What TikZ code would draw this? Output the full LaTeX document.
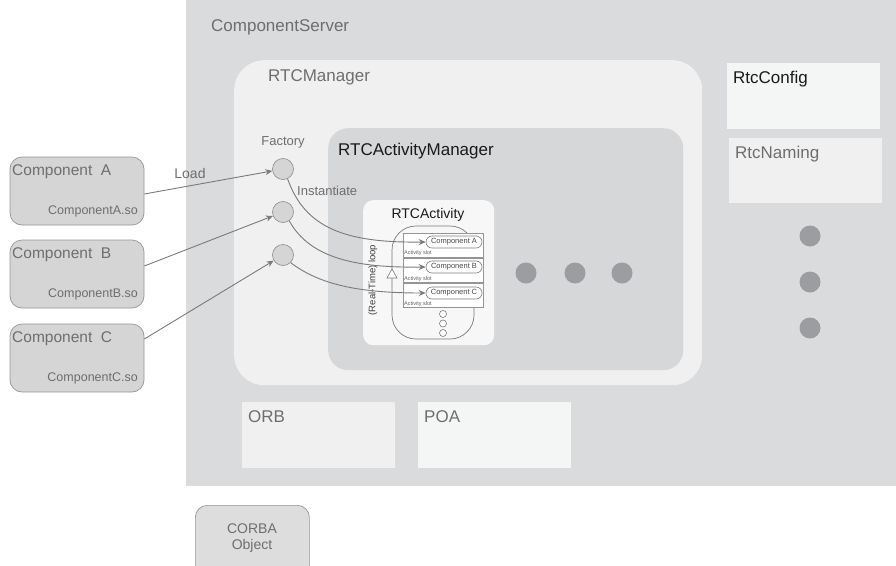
\documentclass[tikz,border=0pt]{standalone}
\usepackage{fontspec}
\setmainfont{Liberation Sans}
\usetikzlibrary{arrows.meta}
\definecolor{srvgray}{HTML}{DADBDC}
\definecolor{mgrlight}{HTML}{F0F0F0}
\definecolor{actmgr}{HTML}{D6D7D9}
\definecolor{txtgray}{HTML}{6E6E6E}
\definecolor{txtdark}{HTML}{1A1A1A}
\definecolor{linegray}{HTML}{7A7A7A}
\definecolor{compfill}{HTML}{D5D5D6}
\definecolor{dotgray}{HTML}{9C9DA0}
\definecolor{cfgfill}{HTML}{F4F5F5}
\definecolor{actfill}{HTML}{F7F7F7}
\tikzset{
  area/.style={draw=none, anchor=north west, inner sep=0pt},
  biglbl/.style={anchor=west, inner sep=0pt, font=\fontsize{17}{20}\selectfont},
  compbox/.style={draw=linegray!80, fill=compfill, rounded corners=12pt, minimum width=134pt, minimum height=68pt, inner sep=0pt, line width=0.7pt},
  factory/.style={circle, draw=linegray!80, fill=compfill, minimum size=21pt, inner sep=0pt, line width=0.7pt},
  conn/.style={draw=linegray, line width=0.9pt, -{Stealth[length=7pt,width=6pt]}},
  slotbox/.style={draw=linegray!80, fill=white, minimum width=80pt, minimum height=24pt, inner sep=0pt, line width=0.6pt},
  cnode/.style={draw=linegray, fill=white, rounded corners=6pt, minimum width=56pt, minimum height=12pt, inner sep=0pt, line width=0.6pt, font=\fontsize{7.5}{8}\selectfont, text=txtdark!80},
  slotlbl/.style={anchor=west, inner sep=0pt, font=\fontsize{5.5}{6}\selectfont, text=txtdark!70},
  bigdot/.style={circle, fill=dotgray, minimum size=21pt, inner sep=0pt},
  smallring/.style={circle, draw=linegray, fill=white, minimum size=7pt, inner sep=0pt, line width=0.6pt}
}
\begin{document}
\begin{tikzpicture}[x=1pt,y=-1pt]
\useasboundingbox (0,0) rectangle (896,565);
\clip (0,0) rectangle (896,565);
% ComponentServer
\node[area, fill=srvgray, minimum width=710pt, minimum height=486pt] (srv) at (186,0) {};
\node[biglbl, text=txtgray] (srvlbl) at (211,27) {ComponentServer};
% RTCManager
\node[area, fill=mgrlight, rounded corners=30pt, minimum width=468pt, minimum height=325pt] (mgr) at (234,60) {};
\node[biglbl, text=txtgray] (mgrlbl) at (268,77) {RTCManager};
% RTCActivityManager
\node[area, fill=actmgr, rounded corners=20pt, minimum width=355pt, minimum height=242pt] (amgr) at (328,128) {};
\node[biglbl, text=txtdark] (amgrlbl) at (338,151) {RTCActivityManager};
% RtcConfig / RtcNaming
\node[area, fill=cfgfill, minimum width=153pt, minimum height=66pt] (cfg) at (727,63) {};
\node[biglbl, text=txtdark] (cfglbl) at (733,79) {RtcConfig};
\node[area, fill=mgrlight, minimum width=153pt, minimum height=65pt] (nam) at (729,138) {};
\node[biglbl, text=txtgray] (namlbl) at (735,154) {RtcNaming};
% ORB / POA
\node[area, fill=mgrlight, minimum width=153pt, minimum height=66pt] (orb) at (242,402) {};
\node[biglbl, text=txtgray] (orblbl) at (248,417) {ORB};
\node[area, fill=cfgfill, minimum width=153pt, minimum height=66pt] (poa) at (418,402) {};
\node[biglbl, text=txtgray] (poalbl) at (424,417) {POA};
% right dots
\node[bigdot] (rd1) at (810,236) {};
\node[bigdot] (rd2) at (810,282) {};
\node[bigdot] (rd3) at (810,328) {};
% middle dots
\node[bigdot] (md1) at (526,273) {};
\node[bigdot] (md2) at (575,273) {};
\node[bigdot] (md3) at (622,273) {};
% RTCActivity
\node[area, fill=actfill, rounded corners=10pt, minimum width=131pt, minimum height=145pt] (act) at (363,200) {};
\node[inner sep=0pt, font=\fontsize{14}{16}\selectfont, text=txtdark] (actlbl) at (428,215) {RTCActivity};
\draw[linegray, line width=0.7pt, rounded corners=24pt] (392,226) rectangle (474,339);
\node[slotbox] (sa) at (443,245) {};
\node[slotbox] (sb) at (443,270) {};
\node[slotbox] (sc) at (443,295.5) {};
\node[cnode] (na) at (454,242) {Component A};
\node[cnode] (nb) at (454,267) {Component B};
\node[cnode] (nc) at (454,293) {Component C};
\node[slotlbl] (la) at (404,253) {Activity slot};
\node[slotlbl] (lb) at (404,279) {Activity slot};
\node[slotlbl] (lc) at (404,304) {Activity slot};
\node[smallring] (r1) at (443,314) {};
\node[smallring] (r2) at (443,323.5) {};
\node[smallring] (r3) at (443,333) {};
\draw[linegray, line width=0.6pt, fill=white] (392,269) -- (397,278) -- (387,278) -- cycle;
\node[rotate=90, inner sep=0pt, font=\fontsize{9.5}{10}\selectfont, text=txtdark!85] (looplbl) at (373,280) {(Real-Time) loop};
% Factory
\node[factory] (f1) at (283,169) {};
\node[factory] (f2) at (283,212) {};
\node[factory] (f3) at (283,255) {};
\node[inner sep=0pt, font=\fontsize{13}{15}\selectfont, text=txtgray] (faclbl) at (283,142) {Factory};
\node[anchor=west, inner sep=0pt, font=\fontsize{13}{15}\selectfont, text=txtgray] (instlbl) at (297,191) {Instantiate};
% Components
\node[compbox] (ca) at (77,191) {};
\node[compbox] (cb) at (77,274) {};
\node[compbox] (cc) at (77,358) {};
\foreach \n/\l/\y in {ca/A/172, cb/B/255, cc/C/339}{
  \node[anchor=west, inner sep=0pt, font=\fontsize{15.5}{17}\selectfont, text=txtgray] (\n t) at (12,\y) {Component\ \ \l};
  \node[anchor=east, inner sep=0pt, font=\fontsize{12.5}{14}\selectfont, text=txtgray] (\n s) at (138,\y+39) {Component\l.so};
}
\node[inner sep=0pt, font=\fontsize{14}{16}\selectfont, text=txtgray] (loadlbl) at (190,173) {Load};
\draw[conn] ([yshift=-3pt]ca.east) -- (f1);
\draw[conn] ([yshift=8pt]cb.east) -- (f2);
\draw[conn] ([yshift=19pt]cc.east) -- (f3);
% Instantiate curves
\draw[conn] (f1.-65) .. controls (305,228) and (345,243) .. (na.west);
\draw[conn] (f2.-55) .. controls (310,258) and (355,268) .. (nb.west);
\draw[conn] (f3.-45) .. controls (320,285) and (360,293) .. (nc.west);
% CORBA object
\node[draw=linegray!80, fill=compfill!80, rounded corners=12pt, minimum width=114pt, minimum height=80pt, anchor=north west, line width=0.7pt] (corba) at (195,505) {};
\node[align=center, inner sep=0pt, font=\fontsize{14}{16}\selectfont, text=txtgray] (corbalbl) at (252,538) {CORBA\\Object};
\end{tikzpicture}
\end{document}
